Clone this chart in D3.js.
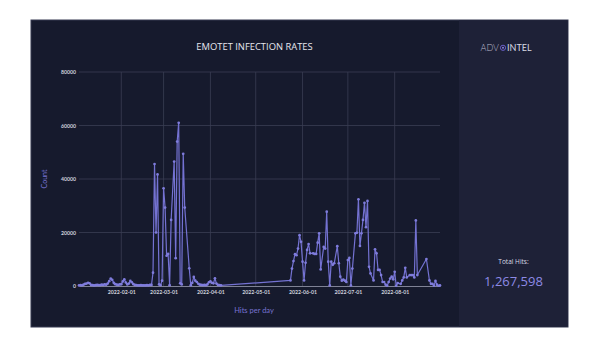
<!DOCTYPE html>
<html><head><meta charset="utf-8">
<script src="https://cdn.jsdelivr.net/npm/d3@7"></script>
<style>html,body{margin:0;padding:0;background:#fff;}svg{display:block;}</style>
</head><body>
<svg id="c" width="600" height="342"></svg>
<script>
const dates = [
"2022-01-04","2022-01-05","2022-01-06","2022-01-07","2022-01-08","2022-01-09","2022-01-10","2022-01-11","2022-01-12","2022-01-13",
"2022-01-14","2022-01-15","2022-01-16","2022-01-17","2022-01-18","2022-01-19","2022-01-20","2022-01-21","2022-01-22","2022-01-23",
"2022-01-24","2022-01-25","2022-01-26","2022-01-27","2022-01-28","2022-01-29","2022-01-30","2022-01-31",
"2022-02-01","2022-02-02","2022-02-03","2022-02-04","2022-02-05","2022-02-06","2022-02-07","2022-02-08","2022-02-09","2022-02-10",
"2022-02-11","2022-02-12","2022-02-13","2022-02-14","2022-02-15","2022-02-16","2022-02-17","2022-02-18","2022-02-19","2022-02-20",
"2022-02-21","2022-02-22","2022-02-23","2022-02-24","2022-02-25","2022-02-26","2022-02-27","2022-02-28",
"2022-03-01","2022-03-02","2022-03-03","2022-03-04","2022-03-05","2022-03-06","2022-03-08","2022-03-09","2022-03-10","2022-03-11",
"2022-03-12","2022-03-13","2022-03-14","2022-03-15","2022-03-18","2022-03-19","2022-03-20","2022-03-21","2022-03-22","2022-03-23",
"2022-03-24","2022-03-25","2022-03-26","2022-03-27","2022-03-28","2022-03-29","2022-03-30","2022-03-31",
"2022-04-01","2022-04-02","2022-04-03","2022-04-04","2022-04-05","2022-04-06","2022-04-07","2022-04-08",
"2022-05-24","2022-05-25","2022-05-26","2022-05-27","2022-05-28","2022-05-29","2022-05-30","2022-05-31",
"2022-06-01","2022-06-02","2022-06-03","2022-06-04","2022-06-05","2022-06-06","2022-06-08","2022-06-09","2022-06-10","2022-06-11",
"2022-06-12","2022-06-13","2022-06-15","2022-06-16","2022-06-17","2022-06-18","2022-06-19","2022-06-20","2022-06-21","2022-06-22",
"2022-06-24","2022-06-25","2022-06-26","2022-06-27","2022-06-28","2022-06-29","2022-06-30",
"2022-07-01","2022-07-02","2022-07-03","2022-07-04","2022-07-06","2022-07-07","2022-07-08","2022-07-09","2022-07-10","2022-07-11",
"2022-07-12","2022-07-13","2022-07-14","2022-07-15","2022-07-16","2022-07-18","2022-07-19","2022-07-20","2022-07-21","2022-07-22",
"2022-07-23","2022-07-24","2022-07-25","2022-07-26","2022-07-27","2022-07-28","2022-07-29","2022-07-30","2022-07-31",
"2022-08-01","2022-08-02","2022-08-03","2022-08-05","2022-08-06","2022-08-07","2022-08-08","2022-08-09","2022-08-11","2022-08-12",
"2022-08-13","2022-08-14","2022-08-15","2022-08-16","2022-08-22","2022-08-24","2022-08-25","2022-08-26","2022-08-27","2022-08-28",
"2022-08-29","2022-08-30","2022-08-31"
];
const counts = [
200,300,250,500,800,900,1200,1000,400,300,
200,300,400,350,300,500,400,600,500,900,
1800,2800,2300,1200,700,500,400,600,
700,1700,2500,1300,600,900,1900,1400,700,400,
300,250,200,300,200,250,200,300,250,400,
400,5000,45600,20000,41700,600,300,2000,
36500,29300,11300,12000,300,24700,46500,10400,54000,61000,
1000,600,49400,29300,6600,300,1200,3400,2000,1500,
800,500,400,300,400,300,600,1400,
1700,1200,1000,2900,900,400,300,200,
2100,6500,9300,11900,11500,14000,19000,16500,
9100,2100,8700,13500,15700,12200,12200,12000,12000,16200,
19700,6200,14600,14000,27800,9100,200,9100,7900,8500,
14900,8500,3500,2000,2400,2000,1500,
9700,10500,200,6500,19700,19900,32400,15000,19700,24700,
31100,22000,31800,7200,4700,2100,13700,12200,6000,6000,
4100,1500,1500,500,100,1500,2800,3500,2500,
5300,100,1100,800,2100,3200,6800,3200,4100,4100,
4100,3200,24500,4100,10100,2100,800,800,100,1900,
500,100,200
];
const yTicks = [0, 20000, 40000, 60000, 80000];
const title = "EMOTET INFECTION RATES";
const yLabel = "Count";
const xLabel = "Hits per day";
const totalLabel = "Total Hits:";
const totalValue = "1,267,598";

const parse = d3.timeParse("%Y-%m-%d");
const data = dates.map((d, i) => ({date: parse(d), value: counts[i]}));

const svg = d3.select("#c");
// panels
svg.append("rect").attr("x", 31).attr("y", 20).attr("width", 537).attr("height", 307)
  .attr("fill", "#161a2d").attr("stroke", "#343851").attr("stroke-width", 1);
svg.append("rect").attr("x", 459).attr("y", 20.5).attr("width", 108.5).attr("height", 306)
  .attr("fill", "#1e2137");

const x = d3.scaleTime().domain(d3.extent(data, d => d.date)).range([79, 440]);
const y = d3.scaleLinear().domain([0, 80000]).range([286, 72]);

// horizontal grid
svg.append("g").selectAll("line").data(yTicks.filter(t => t > 0)).join("line")
  .attr("x1", 79).attr("x2", 440).attr("y1", d => y(d)).attr("y2", d => y(d))
  .attr("stroke", "#3a3e53").attr("stroke-width", 0.8);
// vertical grid
const months = x.ticks(d3.timeMonth.every(1));
svg.append("g").selectAll("line").data(months).join("line")
  .attr("x1", d => x(d)).attr("x2", d => x(d)).attr("y1", 72).attr("y2", 286)
  .attr("stroke", "#3a3e53").attr("stroke-width", 0.8);

// y axis labels
const yAxis = d3.axisLeft(y).tickValues(yTicks).tickSize(0).tickPadding(3).tickFormat(d3.format("d"));
const gy = svg.append("g").attr("transform", "translate(79,0)").call(yAxis);
gy.select(".domain").remove();
gy.selectAll("text").attr("fill", "#cfd0dc").attr("font-size", "5.2px").attr("font-family", "Lato, sans-serif").attr("font-weight", 700);

// x axis
const xAxis = d3.axisBottom(x).tickValues(months).tickSize(0).tickPadding(4).tickFormat(d3.timeFormat("%Y-%m-%d"));
const gx = svg.append("g").attr("transform", "translate(0,286)").call(xAxis);
gx.select(".domain").attr("stroke", "#9a9db0").attr("stroke-width", 0.8);
gx.selectAll("text").attr("fill", "#cfd0dc").attr("font-size", "5.2px").attr("font-family", "Lato, sans-serif").attr("font-weight", 700);

// line
const line = d3.line().x(d => x(d.date)).y(d => y(d.value));
svg.append("path").datum(data).attr("d", line).attr("fill", "none")
  .attr("stroke", "#7472d2").attr("stroke-width", 1.2).attr("stroke-linejoin", "round");
svg.append("g").selectAll("circle").data(data).join("circle")
  .attr("cx", d => x(d.date)).attr("cy", d => y(d.value)).attr("r", 1.35)
  .attr("fill", "#7f7cdc");

// title
svg.append("text").attr("x", 254.5).attr("y", 50).attr("text-anchor", "middle")
  .attr("fill", "#e6e7ef").attr("font-size", "9.4px").attr("font-family", "'Open Sans', sans-serif")
  .attr("font-weight", 500).text(title);
// axis titles
svg.append("text").attr("transform", "translate(46.5,179) rotate(-90)").attr("text-anchor", "middle")
  .attr("fill", "#7673d2").attr("font-size", "7px").attr("font-family", "Lato, sans-serif").text(yLabel);
svg.append("text").attr("x", 254).attr("y", 313).attr("text-anchor", "middle")
  .attr("fill", "#7673d2").attr("font-size", "7.5px").attr("font-family", "Lato, sans-serif").text(xLabel);

// logo
const logo = svg.append("g");
logo.append("text").attr("x", 499).attr("y", 51).attr("text-anchor", "end")
  .attr("fill", "#b9bacb").attr("font-size", "9px").attr("font-family", "Lato, sans-serif").attr("font-weight", 300).text("ADV");
logo.append("circle").attr("cx", 503).attr("cy", 47.8).attr("r", 2.6).attr("fill", "none").attr("stroke", "#6a5fc8").attr("stroke-width", 1);
logo.append("circle").attr("cx", 503).attr("cy", 47.8).attr("r", 1).attr("fill", "#8a7fe0");
logo.append("text").attr("x", 507).attr("y", 51).attr("text-anchor", "start")
  .attr("fill", "#d8d9e4").attr("font-size", "9px").attr("font-family", "Lato, sans-serif").attr("font-weight", 400).text("INTEL");

// totals
svg.append("text").attr("x", 513.5).attr("y", 264).attr("text-anchor", "middle")
  .attr("fill", "#d8d9e4").attr("font-size", "6.5px").attr("font-family", "'Open Sans', sans-serif").text(totalLabel);
svg.append("text").attr("x", 513.5).attr("y", 286).attr("text-anchor", "middle")
  .attr("fill", "#8d8ae6").attr("font-size", "13px").attr("font-family", "'Open Sans', sans-serif").attr("font-weight", 500).text(totalValue);
</script>
</body></html>
